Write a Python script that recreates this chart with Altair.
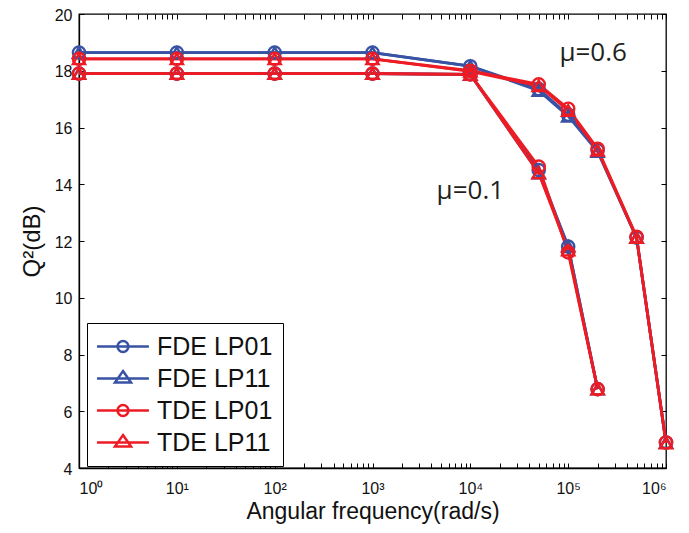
import altair as alt
import pandas as pd

# ---------------- data ----------------
series_names = ["FDE LP01", "FDE LP11", "TDE LP01", "TDE LP11"]
series_colors = ["#3953A4", "#3953A4", "#ED1C24", "#ED1C24"]
series_shapes = ["circle", "triangle-up", "circle", "triangle-up"]

freq_mu01 = [1, 10, 100, 1000, 10000, 50000, 100000, 200000]
freq_mu06 = [1, 10, 100, 1000, 10000, 50000, 100000, 200000, 500000, 1000000]

q_mu01_fde_lp01 = [17.9, 17.9, 17.9, 17.9, 17.87, 14.5, 11.8, 6.78]
q_mu01_fde_lp11 = [17.9, 17.9, 17.9, 17.9, 17.87, 14.4, 11.82, 6.78]
q_mu01_tde_lp01 = [17.9, 17.9, 17.9, 17.9, 17.87, 14.62, 11.6, 6.78]
q_mu01_tde_lp11 = [17.9, 17.9, 17.9, 17.9, 17.87, 14.4, 11.68, 6.78]

q_mu06_fde_lp01 = [18.64, 18.64, 18.64, 18.64, 18.16, 17.35, 16.45, 15.2, 12.12, 4.9]
q_mu06_fde_lp11 = [18.64, 18.64, 18.64, 18.64, 18.16, 17.3, 16.4, 15.15, 12.12, 4.9]
q_mu06_tde_lp01 = [18.42, 18.42, 18.42, 18.42, 18.0, 17.52, 16.66, 15.25, 12.15, 4.9]
q_mu06_tde_lp11 = [18.42, 18.42, 18.42, 18.42, 17.98, 17.47, 16.6, 15.2, 12.12, 4.88]

ann_text = ["\u03bc=0.6", "\u03bc=0.1"]
ann_x = [180000, 10000]
ann_y = [18.64, 13.76]

x_major_ticks = [1, 10, 100, 1000, 10000, 100000, 1000000]
y_ticks = [4, 6, 8, 10, 12, 14, 16, 18, 20]
x_minor_ticks = [m * 10 ** e for e in range(6) for m in range(1, 10)] + [1000000]

# ---------------- table ----------------
tables = {
    "0.1": (freq_mu01, [q_mu01_fde_lp01, q_mu01_fde_lp11, q_mu01_tde_lp01, q_mu01_tde_lp11]),
    "0.6": (freq_mu06, [q_mu06_fde_lp01, q_mu06_fde_lp11, q_mu06_tde_lp01, q_mu06_tde_lp11]),
}
rows = []
for i, (name, col, shp) in enumerate(zip(series_names, series_colors, series_shapes)):
    for mu, (xs, ys_list) in tables.items():
        for xv, yv in zip(xs, ys_list[i]):
            rows.append(dict(series=name, mu=mu, key=name + mu, freq=xv, q=yv,
                             col=col, shp=shp, ord=i))
df = pd.DataFrame(rows)
ann_df = pd.DataFrame({"t": ann_text, "x": ann_x, "y": ann_y})

W, H = 587, 454
FONT = "Liberation Sans"
xscale = alt.Scale(type="log", domain=[1, 1000000], nice=False)
yscale = alt.Scale(domain=[4, 20], nice=False, zero=False)

sup = "['\u2070','\u00b9','\u00b2','\u00b3','\u2074','\u2075','\u2076']"
x_main = alt.X("freq:Q", scale=xscale, axis=alt.Axis(
    orient="bottom", values=x_major_ticks,
    labelExpr="'10' + " + sup + "[round(log(datum.value)/LN10)]",
    ticks=False, tickSize=0, labelPadding=12, labelFontSize=16,
    title="Angular frequency(rad/s)", titleFontSize=23, titlePadding=4,
    grid=False))
y_main = alt.Y("q:Q", scale=yscale, axis=alt.Axis(
    orient="left", values=y_ticks, ticks=False, tickSize=0, labelPadding=7,
    labelOffset=1, labelFontSize=16, title="Q\u00b2(dB)", titleFontSize=24,
    titlePadding=10, grid=False))

x_none = alt.X("freq:Q", scale=xscale, axis=None)
y_none = alt.Y("q:Q", scale=yscale, axis=None)

base = alt.Chart(df)

lines = base.mark_line(strokeWidth=2.8).encode(
    x=x_main, y=y_main,
    color=alt.Color("col:N", scale=None),
    detail="key:N",
)

points = base.mark_point(filled=False, size=150, strokeWidth=2.4, opacity=1).encode(
    x=x_none, y=y_none,
    color=alt.Color("col:N", scale=None),
    shape=alt.Shape("shp:N", scale=None),
    order="ord:Q",
)

texts = alt.Chart(ann_df).mark_text(font="Open Sans", fontSize=26, color="#231F20").encode(
    x=alt.X("x:Q", scale=xscale, axis=None),
    y=alt.Y("y:Q", scale=yscale, axis=None),
    text="t:N",
)

circ_path = "M-1.125,0H3.2M0.59,0A0.45,0.45 0 1,0 1.49,0A0.45,0.45 0 1,0 0.59,0Z"
tri_path = "M-1.125,0H3.2M1.04,-0.62L1.71,0.34L0.37,0.34Z"
legend_paths = [circ_path, tri_path, circ_path, tri_path]

leg = alt.Legend(orient="none", legendX=8, legendY=309, title=None, direction="vertical",
                 labelFont=FONT, labelFontSize=25, labelColor="#111111",
                 labelOffset=33, labelLimit=400,
                 symbolSize=576, symbolStrokeWidth=2.5, rowPadding=5,
                 padding=10, strokeColor="black", fillColor="white")

legend_layer = base.transform_filter("false").mark_point(filled=False).encode(
    x=x_none, y=y_none,
    color=alt.Color("series:N", scale=alt.Scale(domain=series_names, range=series_colors), legend=leg),
    shape=alt.Shape("series:N", scale=alt.Scale(domain=series_names, range=legend_paths), legend=leg),
)

tick_common = dict(labels=False, domain=False, ticks=True, tickSize=5, tickColor="black",
                   tickWidth=1, title=None, grid=False)
ticks_a = base.mark_point(opacity=0, size=0).encode(
    x=alt.X("freq:Q", scale=xscale, axis=alt.Axis(orient="top", offset=-H, values=x_minor_ticks, **tick_common)),
    y=alt.Y("q:Q", scale=yscale, axis=alt.Axis(orient="right", offset=-W, values=y_ticks, **tick_common)),
)
ticks_b = base.mark_point(opacity=0, size=0).encode(
    x=alt.X("freq:Q", scale=xscale, axis=alt.Axis(orient="bottom", offset=-H, values=x_minor_ticks, **tick_common)),
    y=alt.Y("q:Q", scale=yscale, axis=alt.Axis(orient="left", offset=-W, values=y_ticks, **tick_common)),
)

chart = alt.layer(lines, points, texts, legend_layer, ticks_a, ticks_b).resolve_axis(
    x="independent", y="independent"
).properties(
    width=W, height=H,
    autosize=alt.AutoSizeParams(type="none"),
    padding={"left": 71, "top": 6, "right": 15, "bottom": 64},
    background="white",
).configure_view(
    stroke="black", strokeWidth=1.3
).configure_axis(
    labelFont=FONT, titleFont=FONT, labelColor="#111111", titleColor="#111111",
    titleFontWeight="normal", domainColor="black", domainWidth=1.3,
)

chart.save("out.html", embed_options={"renderer": "svg", "actions": False})
